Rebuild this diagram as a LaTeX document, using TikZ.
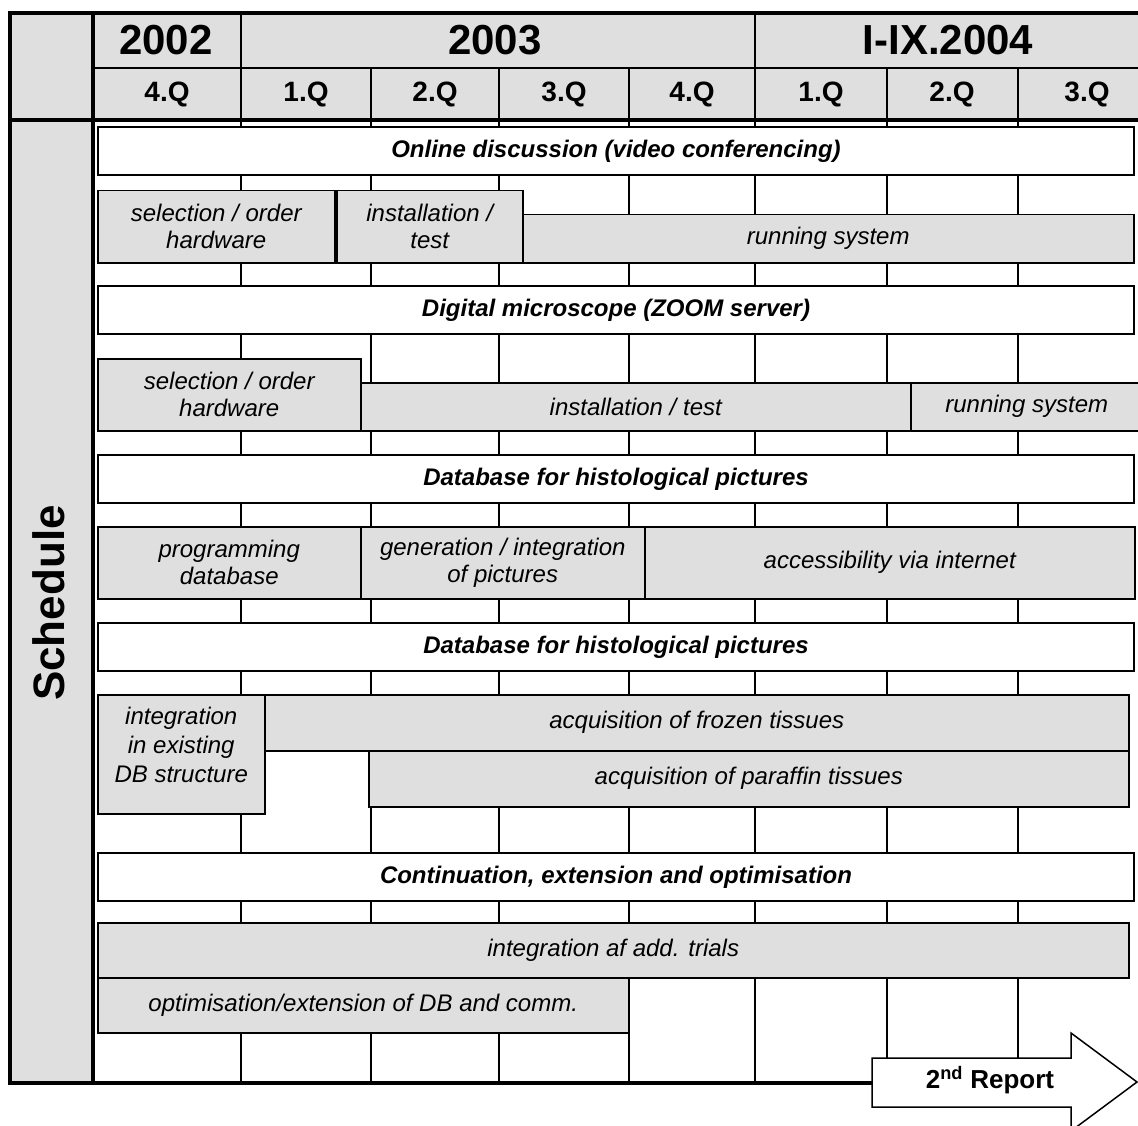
\documentclass[tikz,border=0pt]{standalone}
\usepackage{fontspec}
\setmainfont{Liberation Sans}
\usepackage{tikz}
\definecolor{customGrey}{HTML}{DFDFDF}

\begin{document}
\begin{tikzpicture} [
    x=1pt, y=-1pt,
    frameLine/.style={line width=4pt, line cap=rect},
    gridLine/.style={line width=2.5pt},
    yearHead/.style={font=\bfseries\fontsize{42}{46}\selectfont},
    quarterHead/.style={font=\bfseries\fontsize{28}{32}\selectfont},
    mainTask/.style={rectangle, draw, fill=white, line width=2pt, anchor=north west, inner sep=0pt, align=center, font=\bfseries\itshape\fontsize{24}{27}\selectfont},
    subTask/.style={rectangle, draw, fill=customGrey, line width=1.5pt, anchor=north west, inner sep=0pt, align=center, font=\itshape\fontsize{24}{27}\selectfont}
]

\useasboundingbox (0,0) rectangle (1138,1126);

\fill[customGrey] (10,13) rectangle (1145,120);
\fill[customGrey] (10,120) rectangle (93,1083);

\foreach \x in {371,499,629,887,1018} {
    \draw[gridLine] (\x,68) -- (\x,1083);
}
\foreach \x in {241,755} {
    \draw[gridLine] (\x,13) -- (\x,1083);
}
\draw[gridLine] (93,68) -- (1145,68);

\draw[frameLine] (10,13) -- (1145,13);
\draw[frameLine] (10,120) -- (1145,120);
\draw[frameLine] (10,13) -- (10,1083) -- (873,1083);
\draw[frameLine] (93,13) -- (93,1083);

\node[yearHead] (y2002) at (166,40) {2002};
\node[yearHead] (y2003) at (495,40) {2003};
\node[yearHead] (y2004) at (948,40) {I-IX.2004};

\node[quarterHead] (q4_2002) at (167,94) {4.Q};
\node[quarterHead] (q1_2003) at (306,94) {1.Q};
\node[quarterHead] (q2_2003) at (435,94) {2.Q};
\node[quarterHead] (q3_2003) at (564,94) {3.Q};
\node[quarterHead] (q4_2003) at (692,94) {4.Q};
\node[quarterHead] (q1_2004) at (821,94) {1.Q};
\node[quarterHead] (q2_2004) at (952,94) {2.Q};
\node[quarterHead] (q3_2004) at (1087,94) {3.Q};

\node[rotate=90, font=\bfseries\fontsize{44}{48}\selectfont] (schedule) at (49,603) {Schedule};

\node[mainTask, minimum width=1036, minimum height=48] (online) at (97,126) {Online discussion (video conferencing)};

\node[subTask, minimum width=237, minimum height=72] (hw_select_a) at (97,190) {selection / order\\hardware};
\node[subTask, minimum width=186, minimum height=72] (install_a) at (336,190) {installation /\\test};
\node[subTask, minimum width=611, minimum height=48] (running_a) at (522,214) {running system};

\node[mainTask, minimum width=1036, minimum height=48] (zoom_server) at (97,285) {Digital microscope (ZOOM server)};

\node[subTask, minimum width=263, minimum height=72] (hw_select_b) at (97,358) {selection / order\\hardware};
\node[subTask, minimum width=550, minimum height=48] (install_b) at (360,382) {installation / test};
\node[subTask, minimum width=232, minimum height=48] (running_b) at (910,382) {running system};

\node[mainTask, minimum width=1036, minimum height=48] (db_pics_a) at (97,454) {Database for histological pictures};

\node[subTask, minimum width=263, minimum height=72] (prog_db) at (97,526) {programming\\database};
\node[subTask, minimum width=284, minimum height=72] (gen_pics) at (360,526) {generation / integration\\of pictures};
\node[subTask, minimum width=490, minimum height=72] (access_web) at (644,526) {accessibility via internet};

\node[mainTask, minimum width=1036, minimum height=48] (db_pics_b) at (97,622) {Database for histological pictures};

\node[subTask, minimum width=167, minimum height=119, text depth=18pt, font=\itshape\fontsize{24}{29}\selectfont] (integ_db) at (97,694) {integration\\in existing\\DB structure};
\node[subTask, minimum width=864, minimum height=56] (frozen) at (264,694) {acquisition of frozen tissues};
\node[subTask, minimum width=760, minimum height=56] (paraffin) at (368,750) {acquisition of paraffin tissues};

\node[mainTask, minimum width=1036, minimum height=48] (continuation) at (97,852) {Continuation, extension and optimisation};

\node[subTask, minimum width=1031, minimum height=55] (trials) at (97,922) {integration af add. trials};
\node[subTask, minimum width=531, minimum height=55] (optim) at (97,977) {optimisation/extension of DB and comm.};

\draw[line width=1.5pt, fill=white] (872,1058) -- (1071,1058) -- (1071,1033) -- (1137,1082) -- (1071,1131) -- (1071,1107) -- (872,1107) -- cycle;
\node[font=\bfseries\fontsize{26}{30}\selectfont] (report) at (990,1080) {2\textsuperscript{nd} Report};

\end{tikzpicture}
\end{document}
